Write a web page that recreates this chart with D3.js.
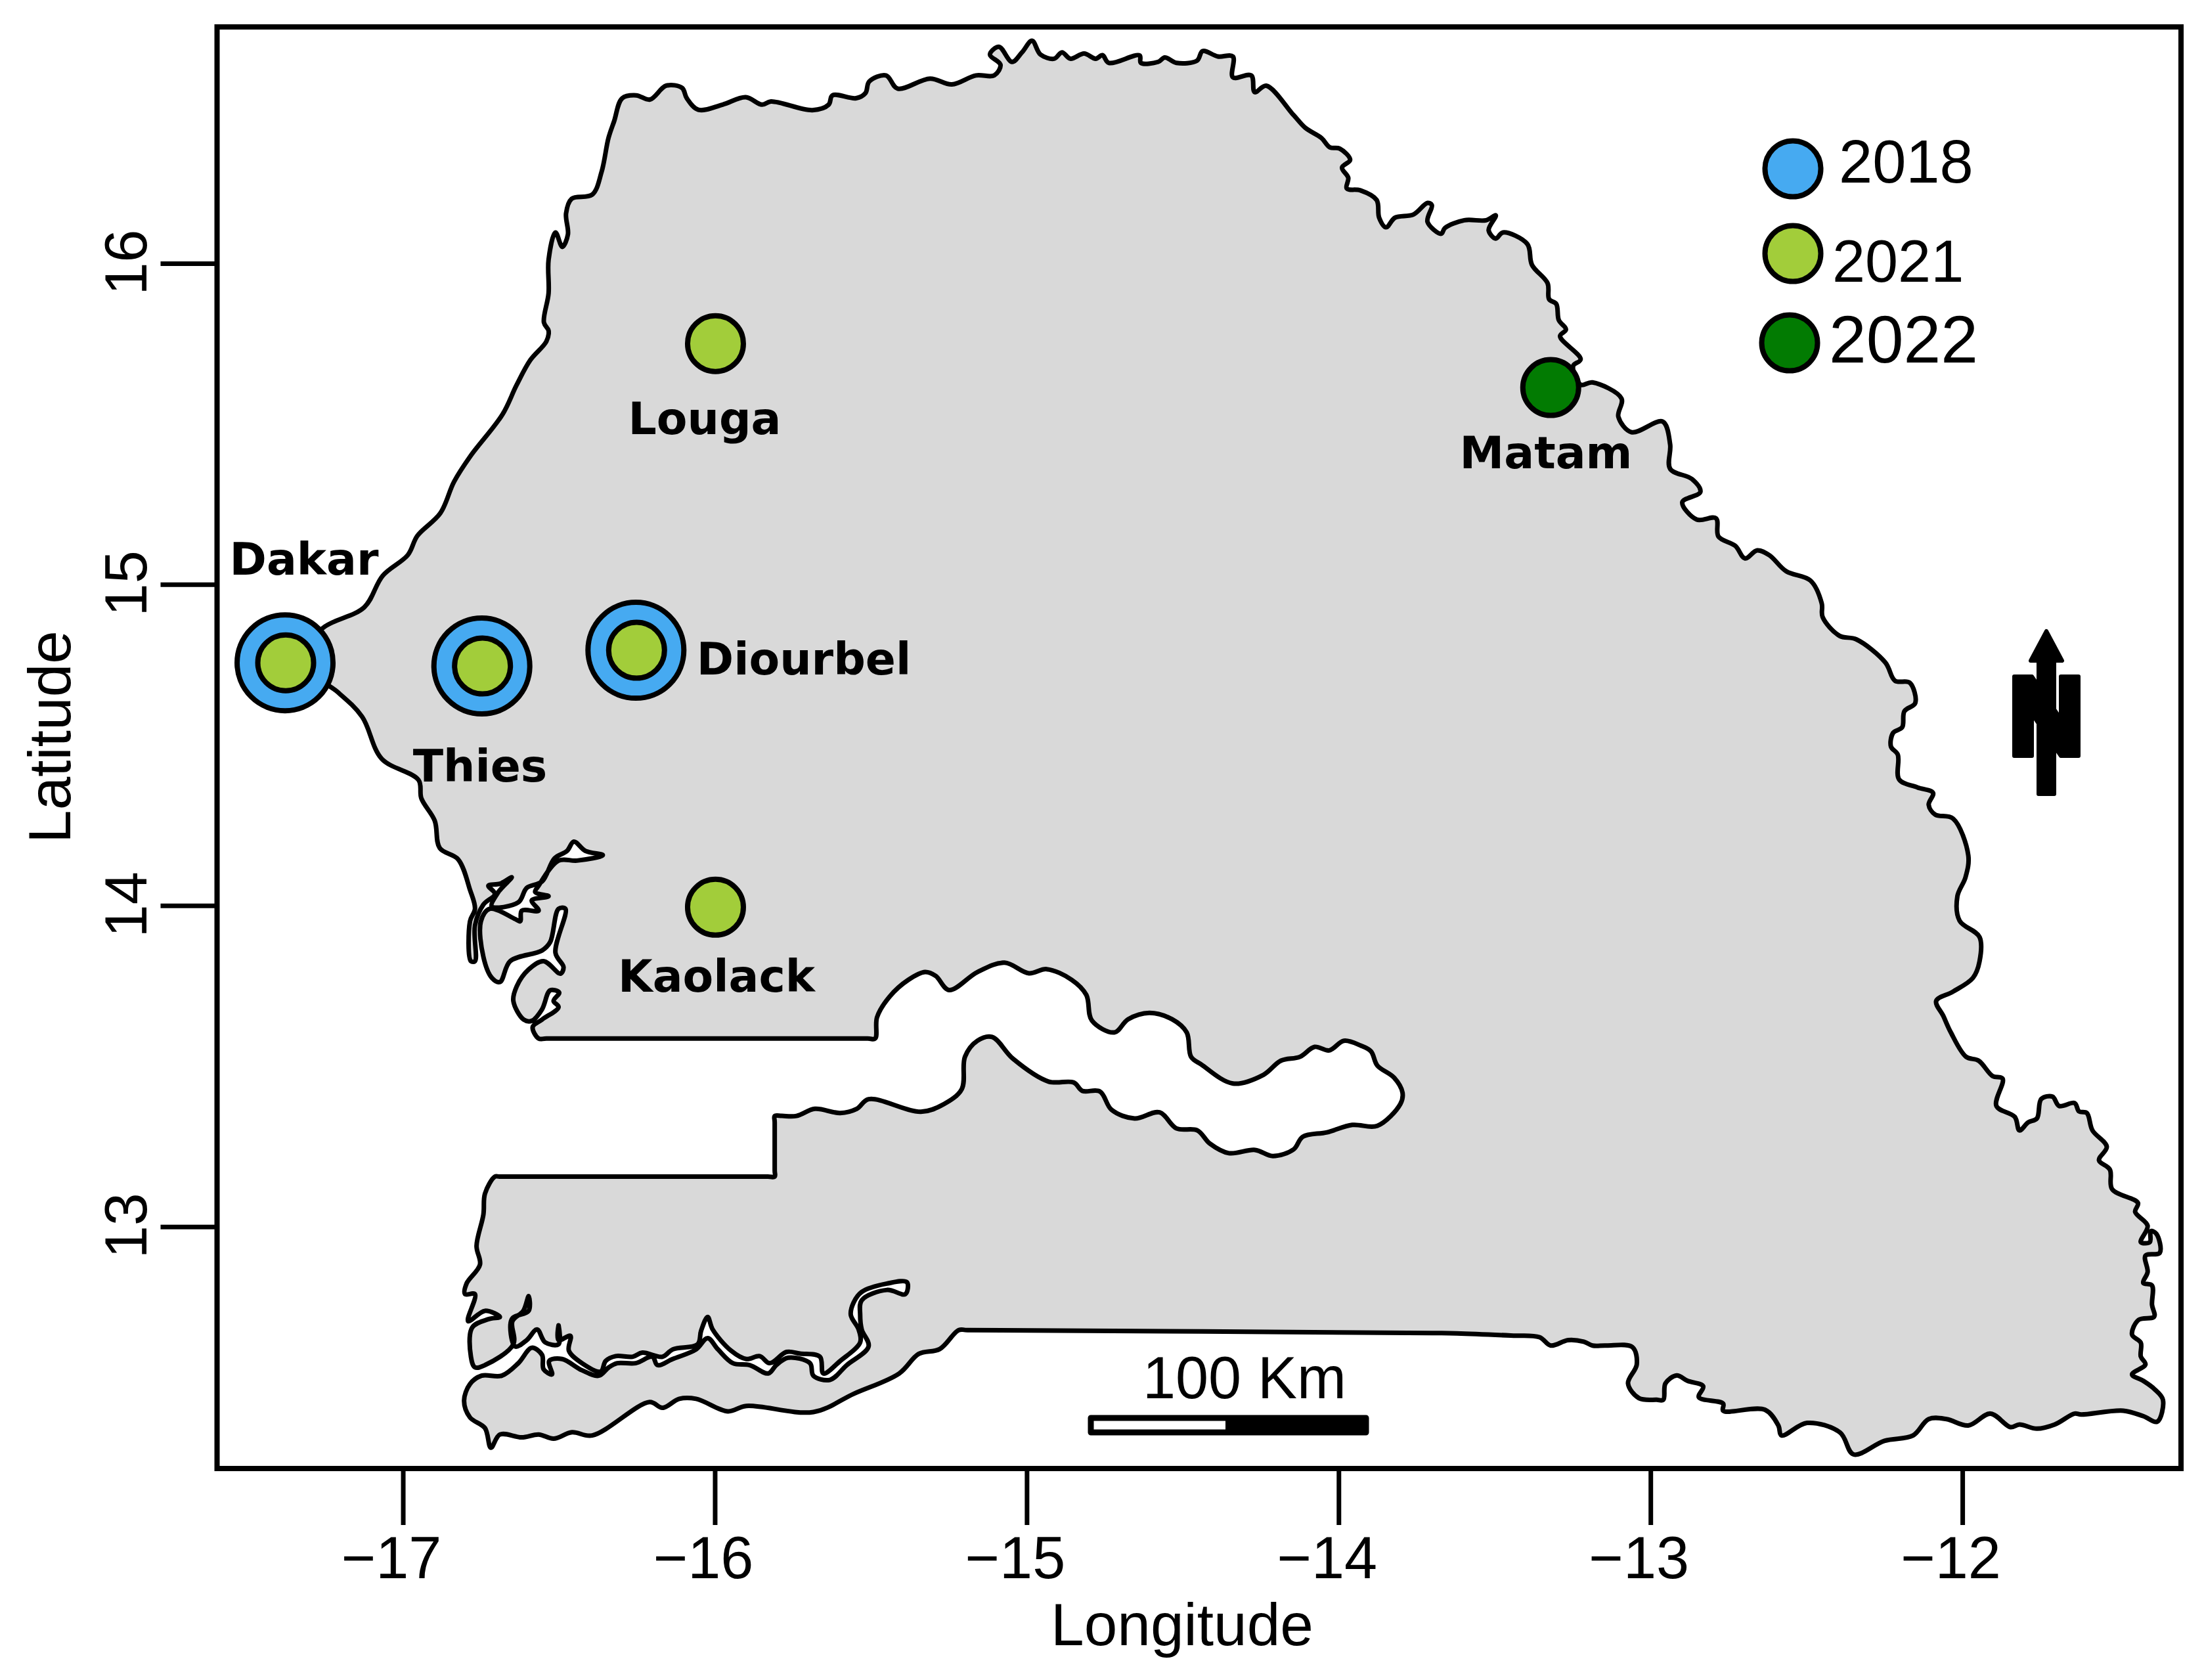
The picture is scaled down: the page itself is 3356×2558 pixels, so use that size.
<!DOCTYPE html>
<html>
<head>
<meta charset="utf-8">
<script src="https://cdn.jsdelivr.net/npm/d3@7"></script>
<style>
  html, body { margin: 0; padding: 0; background: #fff; }
  text { font-family: "Liberation Sans", Arial, sans-serif; fill: #000; }
  .city { font-family: "DejaVu Sans", sans-serif; font-weight: bold; font-size: 68px; }
</style>
</head>
<body>
<div id="chart"></div>
<script>
// Border of Senegal as [lon, lat], one array per stretch
const coastNorth = [[-17.257,14.864],[-17.124,14.929],[-17.065,15.027],[-16.984,15.092],[-16.954,15.151],[-16.880,15.222],[-16.836,15.320],[-16.784,15.399],[-16.681,15.529],[-16.636,15.620],[-16.592,15.698],[-16.540,15.757],[-16.533,15.790],[-16.548,15.816],[-16.533,15.907],[-16.533,16.011],[-16.511,16.096],[-16.489,16.051],[-16.471,16.090],[-16.477,16.155],[-16.459,16.201],[-16.393,16.214],[-16.363,16.285],[-16.341,16.390],[-16.323,16.442],[-16.297,16.514],[-16.252,16.523],[-16.208,16.510],[-16.156,16.553],[-16.105,16.546],[-16.090,16.514],[-16.053,16.478],[-15.975,16.494]];
const riverNorth = [[-15.901,16.517],[-15.849,16.494],[-15.820,16.504],[-15.687,16.477],[-15.635,16.494],[-15.623,16.523],[-15.547,16.514],[-15.517,16.530],[-15.505,16.566],[-15.451,16.585],[-15.414,16.544],[-15.310,16.575],[-15.240,16.557],[-15.163,16.585],[-15.104,16.585],[-15.084,16.618],[-15.118,16.650],[-15.089,16.674],[-15.047,16.627],[-15.015,16.657],[-14.983,16.693],[-14.956,16.650],[-14.912,16.637],[-14.887,16.657],[-14.860,16.637],[-14.816,16.653],[-14.779,16.637],[-14.757,16.648],[-14.737,16.624],[-14.638,16.647],[-14.634,16.624],[-14.579,16.627],[-14.557,16.641],[-14.520,16.624],[-14.454,16.631],[-14.436,16.661],[-14.387,16.644],[-14.339,16.644],[-14.339,16.579],[-14.280,16.585],[-14.269,16.533],[-14.232,16.553],[-14.144,16.461],[-14.107,16.422],[-14.055,16.390],[-14.028,16.361],[-13.996,16.357],[-13.963,16.322],[-13.989,16.298],[-13.969,16.266],[-13.974,16.233],[-13.930,16.227],[-13.878,16.197],[-13.870,16.142],[-13.848,16.112],[-13.819,16.142],[-13.760,16.152],[-13.715,16.188],[-13.701,16.181],[-13.715,16.129],[-13.671,16.092]];
const riverEast = [[-13.659,16.110],[-13.597,16.134],[-13.527,16.134],[-13.496,16.149],[-13.519,16.103],[-13.496,16.077],[-13.473,16.096],[-13.395,16.060],[-13.380,15.995],[-13.330,15.938],[-13.325,15.888],[-13.302,15.873],[-13.294,15.823],[-13.271,15.794],[-13.290,15.773],[-13.224,15.701],[-13.248,15.680],[-13.224,15.622],[-13.186,15.629],[-13.093,15.579],[-13.103,15.522],[-13.061,15.474],[-12.961,15.507],[-12.937,15.436],[-12.937,15.360],[-12.867,15.328],[-12.840,15.288],[-12.898,15.256],[-12.852,15.202],[-12.790,15.206],[-12.782,15.149],[-12.728,15.120],[-12.697,15.081],[-12.658,15.106],[-12.619,15.091],[-12.565,15.041],[-12.487,15.012],[-12.451,14.941],[-12.448,14.898],[-12.394,14.840],[-12.340,14.829],[-12.247,14.757],[-12.216,14.700],[-12.169,14.694]];
const riverFaleme = [[-12.151,14.631],[-12.186,14.605],[-12.193,14.555],[-12.222,14.538],[-12.229,14.495],[-12.207,14.470],[-12.203,14.393],[-12.144,14.368],[-12.094,14.351],[-12.108,14.314],[-12.087,14.283],[-12.030,14.271],[-11.981,14.156],[-11.990,14.088],[-12.016,14.029],[-12.009,13.953],[-11.945,13.902],[-11.945,13.826],[-11.966,13.775],[-12.030,13.732],[-12.084,13.703],[-12.061,13.656],[-12.037,13.605],[-11.988,13.529],[-11.948,13.517],[-11.903,13.469],[-11.871,13.461],[-11.891,13.376],[-11.832,13.342],[-11.817,13.300],[-11.789,13.325],[-11.761,13.337],[-11.747,13.398],[-11.711,13.405],[-11.690,13.376],[-11.640,13.385],[-11.626,13.359],[-11.601,13.354],[-11.583,13.300],[-11.537,13.249],[-11.562,13.207],[-11.527,13.178],[-11.520,13.117],[-11.437,13.074],[-11.446,13.046],[-11.406,13.003],[-11.428,12.952],[-11.399,12.952],[-11.396,12.986],[-11.378,12.978],[-11.367,12.919],[-11.413,12.910],[-11.406,12.859],[-11.420,12.825],[-11.392,12.817],[-11.392,12.757],[-11.385,12.720],[-11.435,12.710],[-11.456,12.664],[-11.428,12.639],[-11.428,12.596],[-11.413,12.571],[-11.456,12.540],[-11.420,12.520],[-11.385,12.495],[-11.357,12.461],[-11.375,12.393]];
const southBorder = [[-11.420,12.410],[-11.484,12.427],[-11.619,12.415],[-11.640,12.418],[-11.704,12.384],[-11.761,12.371],[-11.817,12.384],[-11.846,12.376],[-11.910,12.418],[-11.981,12.381],[-12.051,12.401],[-12.108,12.401],[-12.158,12.350],[-12.250,12.333],[-12.349,12.291],[-12.392,12.359],[-12.498,12.389],[-12.580,12.350],[-12.590,12.381],[-12.633,12.430],[-12.767,12.427],[-12.767,12.449],[-12.845,12.469],[-12.831,12.503],[-12.881,12.520],[-12.916,12.537],[-12.952,12.512],[-12.959,12.461],[-12.980,12.461],[-13.037,12.466],[-13.072,12.512],[-13.044,12.571],[-13.058,12.625],[-13.143,12.630],[-13.186,12.630],[-13.214,12.642],[-13.264,12.647],[-13.320,12.630],[-13.356,12.656],[-13.448,12.661],[-13.621,12.668],[-13.700,12.669],[-15.190,12.678],[-15.218,12.678],[-15.279,12.619],[-15.346,12.604],[-15.409,12.543],[-15.554,12.480],[-15.684,12.423],[-15.899,12.442],[-15.958,12.425],[-16.060,12.464],[-16.114,12.464],[-16.168,12.436],[-16.209,12.454],[-16.393,12.350],[-16.458,12.360],[-16.517,12.340],[-16.565,12.353],[-16.619,12.344],[-16.689,12.353],[-16.718,12.312],[-16.737,12.373],[-16.785,12.406],[-16.804,12.458],[-16.785,12.510],[-16.748,12.536]];
const casamanceSouth = [[-16.683,12.536],[-16.630,12.575],[-16.587,12.623],[-16.554,12.601],[-16.549,12.556],[-16.522,12.540],[-16.531,12.582],[-16.490,12.588],[-16.426,12.553],[-16.372,12.536],[-16.340,12.562],[-16.313,12.575],[-16.254,12.575],[-16.200,12.595],[-16.184,12.569],[-16.135,12.588],[-16.060,12.618],[-16.023,12.653],[-15.990,12.618],[-15.942,12.575],[-15.888,12.569],[-15.829,12.543],[-15.803,12.569],[-15.765,12.592],[-15.695,12.575],[-15.684,12.536],[-15.631,12.523],[-15.577,12.569],[-15.507,12.627],[-15.529,12.680],[-15.534,12.725],[-15.529,12.771],[-15.448,12.803],[-15.389,12.790],[-15.384,12.827]];
const casamanceNorth = [[-15.448,12.823],[-15.529,12.797],[-15.555,12.764],[-15.564,12.725],[-15.539,12.680],[-15.534,12.640],[-15.598,12.582],[-15.652,12.543],[-15.663,12.595],[-15.727,12.605],[-15.770,12.610],[-15.824,12.575],[-15.856,12.597],[-15.899,12.588],[-15.948,12.614],[-16.007,12.680],[-16.023,12.719],[-16.044,12.676],[-16.055,12.634],[-16.135,12.618],[-16.168,12.595],[-16.232,12.608],[-16.264,12.595],[-16.318,12.597],[-16.350,12.582],[-16.366,12.549],[-16.426,12.575],[-16.468,12.614],[-16.463,12.660],[-16.501,12.647],[-16.501,12.693],[-16.501,12.634],[-16.544,12.640],[-16.570,12.680],[-16.603,12.647],[-16.640,12.627],[-16.651,12.712],[-16.597,12.738],[-16.597,12.784],[-16.614,12.738],[-16.649,12.706],[-16.646,12.634],[-16.737,12.569],[-16.769,12.562],[-16.782,12.595],[-16.778,12.686],[-16.726,12.712],[-16.689,12.719],[-16.737,12.738],[-16.791,12.706],[-16.769,12.790],[-16.801,12.790],[-16.796,12.823],[-16.753,12.882],[-16.764,12.940],[-16.742,13.038],[-16.737,13.103],[-16.705,13.156]];
const gambiaSouth = [[-16.690,13.156],[-15.830,13.156],[-15.808,13.156],[-15.808,13.175],[-15.808,13.325],[-15.808,13.345],[-15.785,13.345],[-15.738,13.345],[-15.679,13.367],[-15.598,13.354],[-15.545,13.367],[-15.507,13.397],[-15.339,13.358],[-15.265,13.382],[-15.208,13.429],[-15.198,13.529],[-15.158,13.579],[-15.111,13.591],[-15.044,13.523],[-14.930,13.452],[-14.849,13.449],[-14.822,13.423],[-14.765,13.421],[-14.728,13.364],[-14.654,13.337],[-14.574,13.356],[-14.520,13.306],[-14.453,13.300],[-14.413,13.259],[-14.352,13.229],[-14.268,13.239],[-14.211,13.220],[-14.144,13.241],[-14.115,13.280],[-14.037,13.294],[-13.956,13.317],[-13.876,13.314],[-13.802,13.382],[-13.795,13.417]];
const gambiaNorth = [[-13.822,13.464],[-13.876,13.502],[-13.896,13.546],[-13.929,13.564],[-13.983,13.579],[-14.030,13.549],[-14.077,13.560],[-14.124,13.529],[-14.185,13.517],[-14.241,13.473],[-14.339,13.446],[-14.440,13.505],[-14.473,13.529],[-14.487,13.605],[-14.534,13.646],[-14.607,13.666],[-14.675,13.646],[-14.719,13.605],[-14.791,13.642],[-14.809,13.722],[-14.856,13.769],[-14.936,13.802],[-14.993,13.789],[-15.071,13.822],[-15.158,13.793],[-15.249,13.737],[-15.292,13.781],[-15.326,13.793],[-15.379,13.769],[-15.440,13.716],[-15.480,13.652],[-15.486,13.586],[-15.510,13.586],[-16.540,13.586],[-16.565,13.586]];
const saloumDelta = [[-16.584,13.622],[-16.554,13.645],[-16.501,13.684],[-16.517,13.703],[-16.499,13.729],[-16.528,13.736],[-16.554,13.677],[-16.587,13.641],[-16.613,13.645],[-16.646,13.703],[-16.635,13.749],[-16.597,13.801],[-16.549,13.827],[-16.495,13.788],[-16.485,13.808],[-16.511,13.853],[-16.479,13.990],[-16.501,13.990],[-16.528,13.886],[-16.554,13.860],[-16.656,13.827],[-16.689,13.762],[-16.715,13.775],[-16.742,13.840],[-16.750,13.951],[-16.721,13.990],[-16.640,13.958],[-16.624,13.951],[-16.619,13.984],[-16.565,13.984],[-16.587,14.016],[-16.533,14.029],[-16.576,14.042],[-16.565,14.062],[-16.501,14.140],[-16.442,14.140],[-16.359,14.157],[-16.415,14.170],[-16.452,14.199],[-16.474,14.170],[-16.514,14.147],[-16.554,14.075],[-16.603,14.055],[-16.630,14.010],[-16.715,13.997],[-16.694,14.042],[-16.651,14.088],[-16.689,14.068],[-16.726,14.062],[-16.705,14.036],[-16.742,14.003],[-16.769,13.938],[-16.769,13.827],[-16.782,13.827],[-16.785,13.951],[-16.769,13.990],[-16.785,14.049],[-16.823,14.144],[-16.882,14.179],[-16.898,14.264]];
const coastDakar = [[-16.941,14.334],[-16.950,14.391],[-17.068,14.457],[-17.131,14.588],[-17.212,14.667],[-17.340,14.760]];

const cityNames = ["Dakar", "Thies", "Diourbel", "Louga", "Kaolack", "Matam"];
const cityLon = [-17.378, -16.747, -16.253, -16.0, -16.0, -13.322];
const cityLat = [14.756, 14.746, 14.795, 15.75, 13.995, 15.613];
const cityYears = [[2018, 2021], [2018, 2021], [2018, 2021], [2021], [2021], [2022]];

const legendYears = [2018, 2021, 2022];
const legendColors = ["#46aaf1", "#a2cd3a", "#027b02"];

const lonTicks = [-17, -16, -15, -14, -13, -12];
const latTicks = [13, 14, 15, 16];

const width = 3356, height = 2558;
const box = { left: 330.5, right: 3321, top: 41, bottom: 2236 };

const svg = d3.select("#chart").append("svg")
    .attr("width", width)
    .attr("height", height)
    .style("display", "block");

const x = d3.scaleLinear().domain([-17.596, -11.299]).range([box.left, box.right]);
const y = d3.scaleLinear().domain([12.247, 16.736]).range([box.bottom, box.top]);
const color = d3.scaleOrdinal(legendYears, legendColors);

// Country outline
const border = [...coastNorth, ...riverNorth, ...riverEast, ...riverFaleme, ...southBorder,
    ...casamanceSouth, ...casamanceNorth, ...gambiaSouth, ...gambiaNorth, ...saloumDelta, ...coastDakar];

const outline = d3.line()
    .x(d => x(d[0]))
    .y(d => y(d[1]))
    .curve(d3.curveCatmullRomClosed.alpha(0.5));

svg.append("path")
    .attr("d", outline(border))
    .attr("fill", "#d9d9d9")
    .attr("stroke", "#000")
    .attr("stroke-width", 7)
    .attr("stroke-linejoin", "round");

// Frame
svg.append("rect")
    .attr("x", box.left)
    .attr("y", box.top)
    .attr("width", box.right - box.left)
    .attr("height", box.bottom - box.top)
    .attr("fill", "none")
    .attr("stroke", "#000")
    .attr("stroke-width", 8);

// Axes
const xAxis = svg.append("g")
    .attr("transform", `translate(0,${box.bottom})`)
    .call(d3.axisBottom(x).tickValues(lonTicks).tickSize(86).tickPadding(0).tickFormat(d => "\u2212" + Math.abs(d)));
const yAxis = svg.append("g")
    .attr("transform", `translate(${box.left},0)`)
    .call(d3.axisLeft(y).tickValues(latTicks).tickSize(86).tickPadding(0).tickFormat(d3.format("d")));

[xAxis, yAxis].forEach(g => {
    g.select(".domain").remove();
    g.selectAll(".tick line").attr("stroke", "#000").attr("stroke-width", 7);
    g.selectAll(".tick text").style("font-size", "90px").attr("fill", "#000");
});
xAxis.selectAll(".tick text")
    .attr("x", -18)
    .attr("y", 167)
    .attr("dy", 0);
yAxis.selectAll(".tick text")
    .attr("x", 0)
    .attr("y", 0)
    .attr("dy", 0)
    .attr("text-anchor", "middle")
    .attr("transform", "translate(-108,-2) rotate(-90)");

svg.append("text")
    .attr("x", 1800)
    .attr("y", 2505)
    .attr("text-anchor", "middle")
    .style("font-size", "91px")
    .text("Longitude");
svg.append("text")
    .attr("transform", "translate(107,1122) rotate(-90)")
    .attr("text-anchor", "middle")
    .style("font-size", "91px")
    .text("Latitude");

// City markers: the older year sits behind as a larger disc
const cities = cityNames.map((name, i) => ({ name, lon: cityLon[i], lat: cityLat[i], years: cityYears[i] }));

cities.forEach(c => {
    c.years.forEach((year, i) => {
        const outer = c.years.length > 1 && i === 0;
        svg.append("circle")
            .attr("cx", x(c.lon) + (outer ? 0 : 1))
            .attr("cy", y(c.lat))
            .attr("r", outer ? 73 : 42.5)
            .attr("fill", color(year))
            .attr("stroke", "#000")
            .attr("stroke-width", 8);
    });
});

// City labels
const labelSpots = {
    Dakar: [463, 875], Thies: [731, 1190], Diourbel: [1224, 1027],
    Louga: [1073, 661], Kaolack: [1091, 1510], Matam: [2354, 713]
};
svg.selectAll(".city")
    .data(cityNames)
    .join("text")
    .attr("class", "city")
    .attr("x", d => labelSpots[d][0])
    .attr("y", d => labelSpots[d][1])
    .attr("text-anchor", "middle")
    .text(d => d);

// Legend
const legendSpots = [
    { cx: 2730, cy: 257, tx: 2800, ty: 278, size: 92 },
    { cx: 2730, cy: 386, tx: 2790, ty: 429, size: 90 },
    { cx: 2725, cy: 522, tx: 2785, ty: 552, size: 102 }
];
legendYears.forEach((year, i) => {
    const s = legendSpots[i];
    svg.append("circle")
        .attr("cx", s.cx)
        .attr("cy", s.cy)
        .attr("r", 42.5)
        .attr("fill", color(year))
        .attr("stroke", "#000")
        .attr("stroke-width", 8);
    svg.append("text")
        .attr("x", s.tx)
        .attr("y", s.ty)
        .style("font-size", s.size + "px")
        .text(year);
});

// Scale bar
const bar = svg.append("g");
bar.append("rect").attr("x", 1661).attr("y", 2159).attr("width", 419).attr("height", 22)
    .attr("fill", "#fff").attr("stroke", "#000").attr("stroke-width", 9).attr("stroke-linejoin", "round");
bar.append("rect").attr("x", 1866).attr("y", 2159).attr("width", 214).attr("height", 22).attr("fill", "#000");
svg.append("text")
    .attr("x", 1895)
    .attr("y", 2129)
    .attr("text-anchor", "middle")
    .style("font-size", "90px")
    .text("100 Km");

// North arrow
const north = svg.append("g")
    .attr("fill", "#000")
    .attr("stroke", "#000")
    .attr("stroke-width", 6)
    .attr("stroke-linejoin", "round");
north.append("path").attr("d", "M3067,1030H3094L3138,1095V1030H3165V1151H3138L3094,1087V1151H3067Z");
north.append("path").attr("d", "M3116,961L3140,1006L3128,1006V1209H3104V1006L3092,1006Z");
</script>
</body>
</html>
